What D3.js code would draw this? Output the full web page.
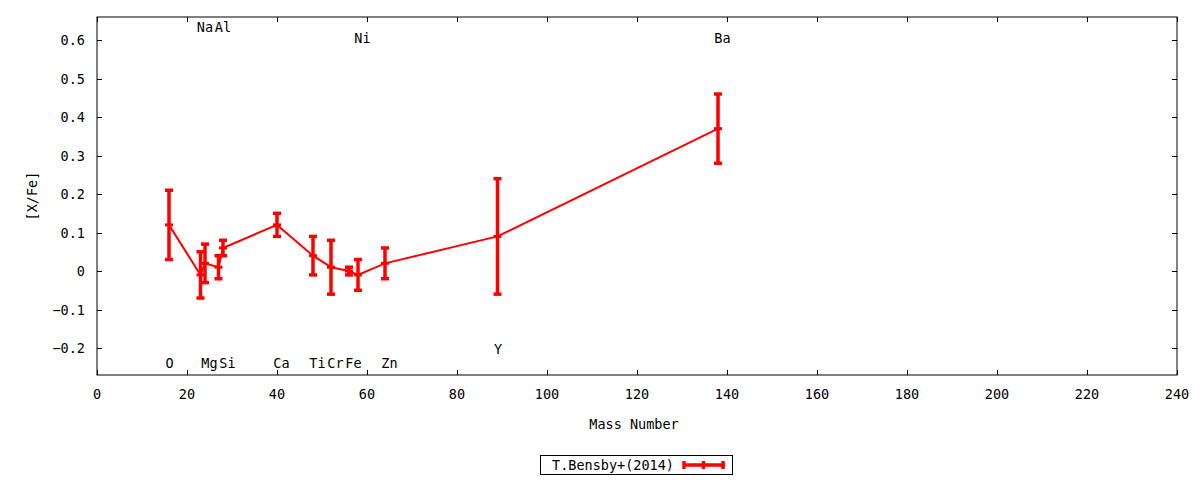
<!DOCTYPE html>
<html><head><meta charset="utf-8">
<script src="https://cdn.jsdelivr.net/npm/d3@7"></script>
<style>
body{margin:0;background:#fff;}
svg{display:block;}
text{font-family:"DejaVu Sans Mono",monospace;font-size:13.5px;fill:#000;}
</style></head><body>
<svg id="c" width="1200" height="480"></svg>
<script>
const elements = ["O","Na","Mg","Al","Si","Ca","Ti","Cr","Fe","Ni","Zn","Y","Ba"];
const massNumber = [16,23,24,27,28,40,48,52,56,58,64,89,138];
const xfe = [0.12,-0.01,0.02,0.01,0.06,0.12,0.04,0.01,0.00,-0.01,0.02,0.09,0.37];
const xfeErr = [0.09,0.06,0.05,0.03,0.02,0.03,0.05,0.07,0.01,0.04,0.04,0.15,0.09];
const labelY = [-0.24,0.635,-0.24,0.635,-0.24,-0.24,-0.24,-0.24,-0.24,0.605,-0.24,-0.203,0.605];
const xTicks = [0,20,40,60,80,100,120,140,160,180,200,220,240];
const yTicks = [-0.2,-0.1,0,0.1,0.2,0.3,0.4,0.5,0.6];
const seriesName = "T.Bensby+(2014)";

const svg = d3.select("#c");
const L=97,R=1177,T=17,B=375;
const x = d3.scaleLinear().domain([0,240]).range([L,R]);
const y = d3.scaleLinear().domain([-0.27,0.66]).range([B,T]);
const red = "#ff0000";

// frame
svg.append("rect").attr("x",L).attr("y",T).attr("width",R-L).attr("height",B-T)
  .attr("fill","none").attr("stroke","#000").attr("stroke-width",1);

// axes (ticks inward, mirrored)
const tl = 5;
const fmtY = d => d===0 ? "0" : d3.format(".1f")(d);
const ax = svg.append("g");
xTicks.forEach(t=>{
  const px = Math.round(x(t))+0.5;
  ax.append("line").attr("x1",px).attr("x2",px).attr("y1",B).attr("y2",B-tl).attr("stroke","#000");
  ax.append("line").attr("x1",px).attr("x2",px).attr("y1",T).attr("y2",T+tl).attr("stroke","#000");
  ax.append("text").attr("x",x(t)).attr("y",394).attr("text-anchor","middle").attr("dominant-baseline","central").text(t);
});
yTicks.forEach(t=>{
  const py = Math.round(y(t))+0.5;
  ax.append("line").attr("x1",L).attr("x2",L+tl).attr("y1",py).attr("y2",py).attr("stroke","#000");
  ax.append("line").attr("x1",R).attr("x2",R-tl).attr("y1",py).attr("y2",py).attr("stroke","#000");
  ax.append("text").attr("x",85).attr("y",y(t)).attr("text-anchor","end").attr("dominant-baseline","central").text(fmtY(t));
});

svg.append("text").attr("x",634).attr("y",424).attr("text-anchor","middle").attr("dominant-baseline","central").text("Mass Number");
svg.append("text").attr("transform","translate(32,196) rotate(-90)").attr("text-anchor","middle").attr("dominant-baseline","central").text("[X/Fe]");

// data
const data = elements.map((e,i)=>({e,m:massNumber[i],v:xfe[i],err:xfeErr[i],ly:labelY[i]}));

// labels
svg.append("g").selectAll("text").data(data).join("text")
  .attr("x",d=>x(d.m)+(d.e.length>1?4.5:0.5))
  .attr("y",d=>y(d.ly))
  .attr("text-anchor","middle").attr("dominant-baseline","central")
  .text(d=>d.e);

// line
svg.append("path").datum(data)
  .attr("d",d3.line().x(d=>x(d.m)).y(d=>y(d.v)))
  .attr("fill","none").attr("stroke",red).attr("stroke-width",2);

// error bars
const cap = 4;
const eb = svg.append("g").attr("stroke",red).attr("stroke-width",3.5);
data.forEach(d=>{
  const px=x(d.m);
  eb.append("line").attr("x1",px).attr("x2",px).attr("y1",y(d.v+d.err)).attr("y2",y(d.v-d.err));
  eb.append("line").attr("x1",px-cap).attr("x2",px+cap).attr("y1",y(d.v+d.err)).attr("y2",y(d.v+d.err));
  eb.append("line").attr("x1",px-cap).attr("x2",px+cap).attr("y1",y(d.v-d.err)).attr("y2",y(d.v-d.err));
  eb.append("line").attr("x1",px-cap).attr("x2",px+cap).attr("y1",y(d.v)).attr("y2",y(d.v)).attr("stroke-width",3);
});

// legend
const lg = svg.append("g");
lg.append("rect").attr("x",540.5).attr("y",455.5).attr("width",192).attr("height",19)
  .attr("fill","#fff").attr("stroke","#000");
lg.append("text").attr("x",674).attr("y",465).attr("text-anchor","end").attr("dominant-baseline","central").text(seriesName);
lg.append("line").attr("x1",684).attr("x2",725).attr("y1",465).attr("y2",465).attr("stroke",red).attr("stroke-width",3.5);
[684,703.5,723].forEach(px=>lg.append("line").attr("x1",px).attr("x2",px).attr("y1",461).attr("y2",469).attr("stroke",red).attr("stroke-width",3.5));
</script></body></html>
